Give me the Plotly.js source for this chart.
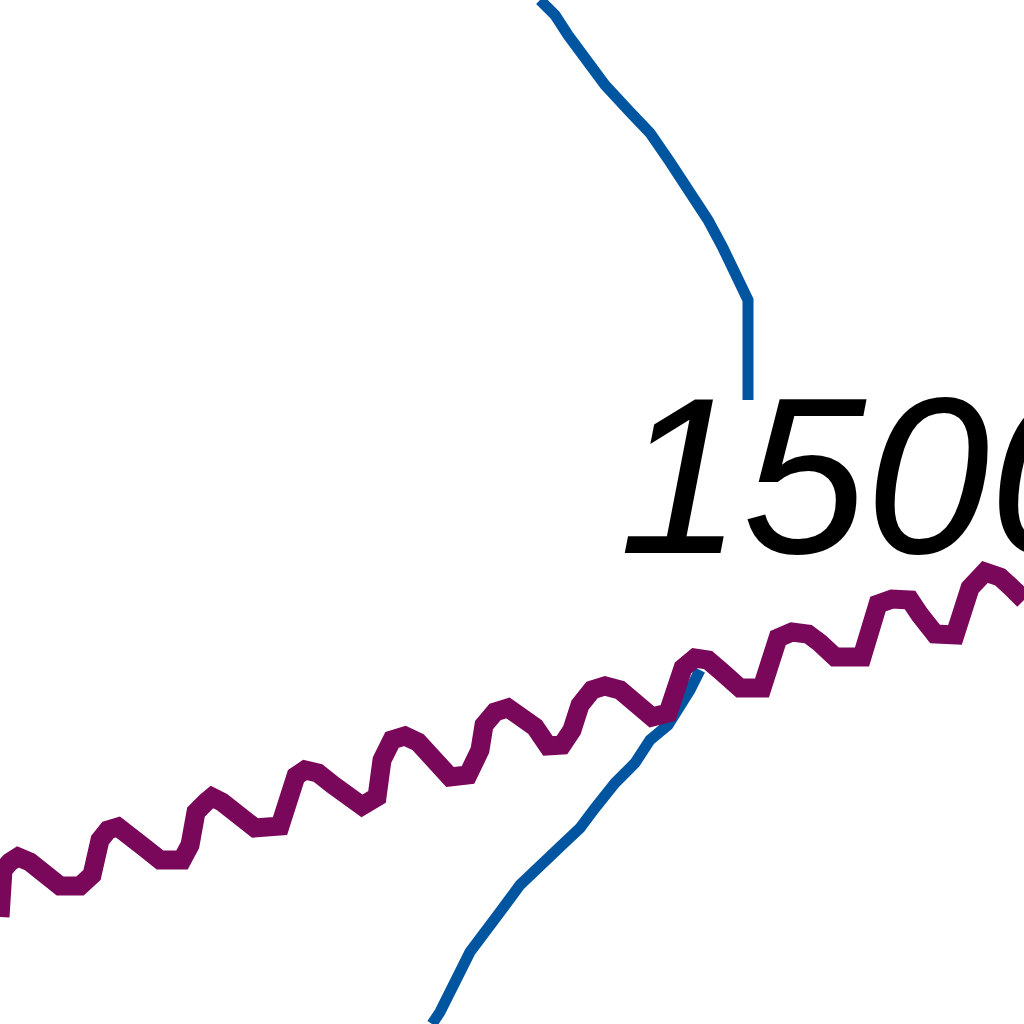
<!DOCTYPE html>
<html>
<head>
<meta charset="utf-8">
<script src="https://cdn.plot.ly/plotly-3.0.1.min.js"></script>
<style>
  body { margin: 0; background: #fff; }
  #plot_myDiv { width: 1024px; height: 1024px; }
</style>
</head>
<body>
<div id="plot_myDiv"></div>
<script>
// blue contour line, top piece and bottom piece (null = break for the label)
var blue_x = [540, 555, 568, 585, 605, 630, 650, 670, 693, 708, 723, 738, 748, 748,
  null,
  700, 690, 668, 650, 635, 615, 595, 580, 562, 540, 520, 500, 485, 470, 460, 450, 440, 432];
var blue_y = [0, 15, 35, 60, 85, 112, 133, 162, 197, 220, 248, 280, 300, 400,
  null,
  670, 690, 725, 740, 763, 783, 808, 828, 845, 865, 885, 912, 932, 952, 972, 995, 1012, 1024];

// purple wavy line
var purple_x = [0, 3, 10, 18, 30, 45, 60, 80, 92, 100, 108, 118, 130, 145, 160, 182,
  190, 196, 206, 212, 222, 240, 255, 280, 288, 296, 305, 318, 333, 350, 362, 377,
  382, 392, 405, 418, 435, 450, 468, 480, 484, 495, 508, 520, 535, 548, 562, 572,
  580, 592, 605, 620, 635, 652, 668, 675, 683, 695, 708, 722, 740, 762, 770, 778,
  792, 808, 820, 835, 862, 870, 878, 892, 910, 920, 935, 955, 962, 970, 985, 1000,
  1012, 1024];
var purple_y = [917, 870, 862, 857, 862, 874, 886, 886, 875, 840, 830, 827, 834, 848, 860, 860,
  845, 812, 802, 797, 802, 815, 828, 826, 800, 776, 770, 773, 785, 800, 806, 797,
  760, 740, 736, 742, 758, 777, 775, 750, 725, 712, 708, 715, 727, 746, 745, 730,
  705, 690, 686, 690, 705, 717, 713, 690, 668, 658, 660, 672, 688, 688, 665, 638,
  632, 634, 643, 657, 657, 630, 604, 599, 600, 615, 634, 635, 610, 588, 572, 577,
  588, 600];

// contour label
var label_x = [618];
var label_y = [601];
var label_text = ['1500'];

var plot_data = [
  {x: blue_x, y: blue_y, type: 'scatter', mode: 'lines', connectgaps: false,
    line: {color: '#0055a0', width: 11}, hoverinfo: 'skip'},
  {x: purple_x, y: purple_y, type: 'scatter', mode: 'lines',
    line: {color: '#7a085a', width: 19}, hoverinfo: 'skip'}
];

var layout = {
  width: 1024,
  height: 1024,
  margin: {l: 0, r: 0, t: 0, b: 0, pad: 0},
  paper_bgcolor: '#ffffff',
  plot_bgcolor: '#ffffff',
  showlegend: false,
  xaxis: {range: [0, 1024], visible: false, showgrid: false, zeroline: false, fixedrange: true},
  yaxis: {range: [1024, 0], visible: false, showgrid: false, zeroline: false, fixedrange: true},
  annotations: [{
    x: label_x[0], y: label_y[0], xref: 'x', yref: 'y',
    text: '<i>' + label_text[0] + '</i>',
    showarrow: false, xanchor: 'left', yanchor: 'bottom',
    borderpad: 0,
    font: {family: 'Liberation Sans', size: 222, color: '#000000'}
  }]
};

Plotly.newPlot('plot_myDiv', plot_data, layout, {displayModeBar: false, staticPlot: true});
</script>
</body>
</html>
